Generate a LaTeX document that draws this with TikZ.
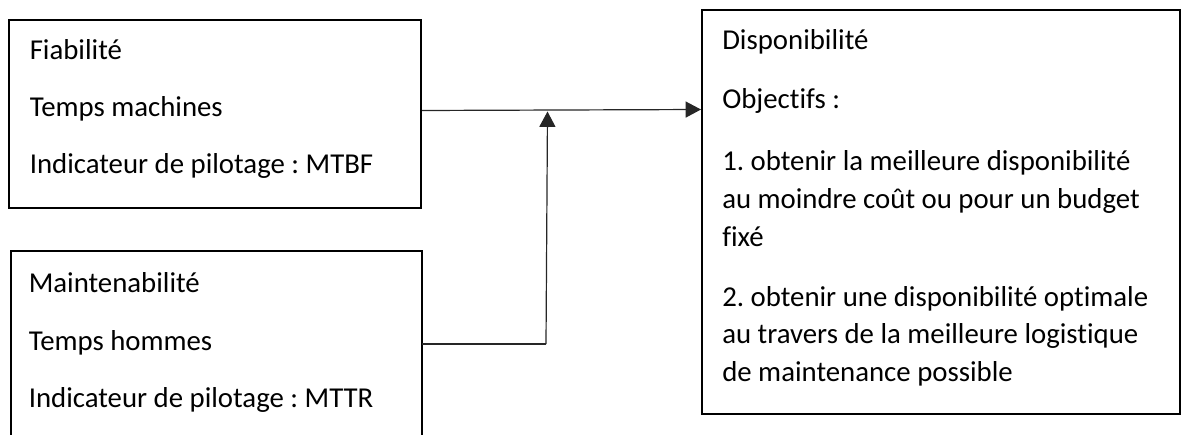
\documentclass[tikz,border=0pt]{standalone}
\usepackage{fontspec}
\setmainfont[Ligatures=NoCommon]{Carlito}
\usetikzlibrary{arrows.meta}
\frenchspacing
\begin{document}
\frenchspacing
\begin{tikzpicture}[x=0.75pt,y=-0.75pt,
  boxframe/.style={draw=black, line width=1.5pt, inner sep=0pt, rectangle},
  openframe/.style={inner sep=0pt, rectangle},
  txt/.style={anchor=base west, inner sep=0pt, font=\fontsize{21.6}{26}\selectfont},
  conn/.style={draw=black!85, line width=0.9pt},
  arr/.style={conn, -{Triangle[length=11.5pt,width=12pt]}}]
\useasboundingbox (0,0) rectangle (1181,435);
% boxes
\node[boxframe, minimum width=412*0.75pt, minimum height=187.7*0.75pt] (box1) at (215,113.85) {};
\node[openframe, minimum width=411*0.75pt, minimum height=199*0.75pt] (box2) at (216.5,350.5) {};
\draw[black, line width=1.5pt] (box2.south west) -- (box2.north west) -- (box2.north east) -- (box2.south east);
\node[boxframe, minimum width=478*0.75pt, minimum height=404*0.75pt] (box3) at (941,212) {};
% texts box 1
\node[txt] (t11) at (29.5,59.3) {Fiabilité};
\node[txt] (t12) at (29.5,116) {Temps machines};
\node[txt] (t13) at (29.5,173) {Indicateur de pilotage : MTBF};
% texts box 2
\node[txt] (t21) at (28.5,292.7) {Maintenabilité};
\node[txt] (t22) at (28.5,350) {Temps hommes};
\node[txt] (t23) at (28.5,407.5) {Indicateur de pilotage : MTTR};
% texts box 3
\node[txt] (t31) at (722,49.3) {Disponibilité};
\node[txt] (t32) at (722,108.3) {Objectifs :};
\node[txt] (t33) at (722,170) {1. obtenir la meilleure disponibilité};
\node[txt] (t34) at (722,208.3) {au moindre coût ou pour un budget};
\node[txt] (t35) at (722,246.7) {fixé};
\node[txt] (t36) at (722,306) {2. obtenir une disponibilité optimale};
\node[txt] (t37) at (722,343.3) {au travers de la meilleure logistique};
\node[txt] (t38) at (722,381.7) {de maintenance possible};
% connectors
\coordinate (ja) at (421,110.5);
\coordinate (jb) at (703,109.5);
\coordinate (jlow) at (546,344);
\coordinate (jtop) at (547.5,111.5);
\draw[arr] (box1.east |- ja) -- (box3.west |- jb);
\draw[conn] (box2.east |- jlow) -- (jlow);
\draw[arr] (jlow) -- (jtop);
\end{tikzpicture}
\end{document}
